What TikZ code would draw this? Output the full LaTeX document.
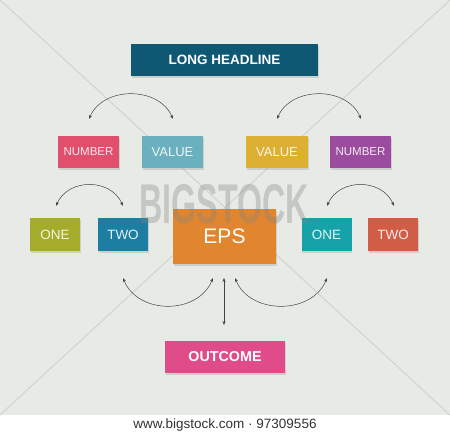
\documentclass[tikz,border=0pt]{standalone}
\usepackage{fontspec}
\setmainfont{Liberation Sans}
\usetikzlibrary{arrows.meta,shadows}
\definecolor{bgc}{HTML}{E8EAE5}
\definecolor{diag}{HTML}{CFD1CB}
\definecolor{headc}{HTML}{0F5874}
\definecolor{numA}{HTML}{E0506C}
\definecolor{valA}{HTML}{6BB0BE}
\definecolor{valB}{HTML}{DDB033}
\definecolor{numB}{HTML}{9C4C9E}
\definecolor{oneA}{HTML}{A5AB2A}
\definecolor{twoA}{HTML}{1C7FA2}
\definecolor{epsc}{HTML}{E1862F}
\definecolor{oneB}{HTML}{17A2AA}
\definecolor{twoB}{HTML}{D15D47}
\definecolor{outc}{HTML}{E04B8A}
\definecolor{arrc}{HTML}{444444}
\tikzset{
  box/.style={rectangle, inner sep=0pt, minimum height=32pt,
    drop shadow={shadow xshift=0.5pt, shadow yshift=-2pt, opacity=0.25}},
  small/.style={box, minimum width=61pt, text=white!88!#1, fill=#1,
    font=\fontsize{11.5}{12}\selectfont},
  pair/.style={box, minimum width=50pt, minimum height=33pt, text=white!88!#1, fill=#1,
    font=\fontsize{13.5}{14}\selectfont},
  arr/.style={draw=arrc, line width=0.5pt, {Stealth[length=4pt,width=3pt]}-{Stealth[length=4pt,width=3pt]}}
}
\begin{document}
\begin{tikzpicture}[x=1pt,y=-1pt]
\useasboundingbox (0,0) rectangle (450,436);
\fill[white] (0,0) rectangle (450,436);
\fill[bgc] (0,0) rectangle (450,415);
\draw[diag, line width=0.9pt] (0,0) -- (450,415);
\draw[diag, line width=0.9pt] (450,0) -- (0,415);

\node[box, minimum width=187pt, fill=headc, text=white,
  font=\bfseries\fontsize{13.5}{14}\selectfont] (head) at (224.5,60) {LONG HEADLINE};
\node[small=numA] (num1) at (88.5,152) {NUMBER};
\node[small=valA, font=\fontsize{13}{14}\selectfont] (val1) at (172.5,152) {VALUE};
\node[small=valB, font=\fontsize{13}{14}\selectfont, minimum width=62pt] (val2) at (277,152) {VALUE};
\node[small=numB] (num2) at (360.5,152) {NUMBER};
\node[pair=oneA] (one1) at (55,234.5) {ONE};
\node[pair=twoA] (two1) at (123,234.5) {TWO};
\node[pair=oneB] (one2) at (326.5,234.5) {ONE};
\node[pair=twoB] (two2) at (393,234.5) {TWO};
\node[box, minimum width=103pt, minimum height=55pt, fill=epsc, text=white,
  font=\fontsize{21}{22}\selectfont, text depth=0pt, yshift=-1pt] (eps) at (224.5,235.5) {EPS};
\node[box, minimum width=120pt, fill=outc, text=white,
  font=\bfseries\fontsize{14.3}{15}\selectfont] (out) at (225,357) {OUTCOME};

% arcs
\coordinate (a1) at (89,119);  \coordinate (a2) at (173,119);
\coordinate (b1) at (277,119); \coordinate (b2) at (361,119);
\coordinate (c1) at (56,206);  \coordinate (c2) at (123,206);
\coordinate (d1) at (327,206); \coordinate (d2) at (394,206);
\coordinate (e1) at (123,278); \coordinate (e2) at (213,278);
\coordinate (f1) at (235,278); \coordinate (f2) at (327,278);
\coordinate (g1) at (224,278); \coordinate (g2) at (224,325);
\draw[arr] (a1) .. controls +(14,-33) and +(-14,-33) .. (a2);
\draw[arr] (b1) .. controls +(14,-33) and +(-14,-33) .. (b2);
\draw[arr] (c1) .. controls +(12,-28) and +(-12,-28) .. (c2);
\draw[arr] (d1) .. controls +(12,-28) and +(-12,-28) .. (d2);
\draw[arr] (e1) .. controls +(15,37) and +(-15,37) .. (e2);
\draw[arr] (f1) .. controls +(15,37) and +(-15,37) .. (f2);
\draw[arr] (g1) -- (g2);

% watermark
\node[anchor=base, inner sep=0pt, text=gray, opacity=0.33, xscale=0.575,
  font=\bfseries\fontsize{56}{56}\selectfont] (wm) at (224,223) {BIGSTOCK};

% footer
\node[inner sep=0pt, text=black!80, font=\fontsize{13.5}{14}\selectfont] (foot) at (225,425) {www.bigstock.com · 97309556};
\end{tikzpicture}
\end{document}
